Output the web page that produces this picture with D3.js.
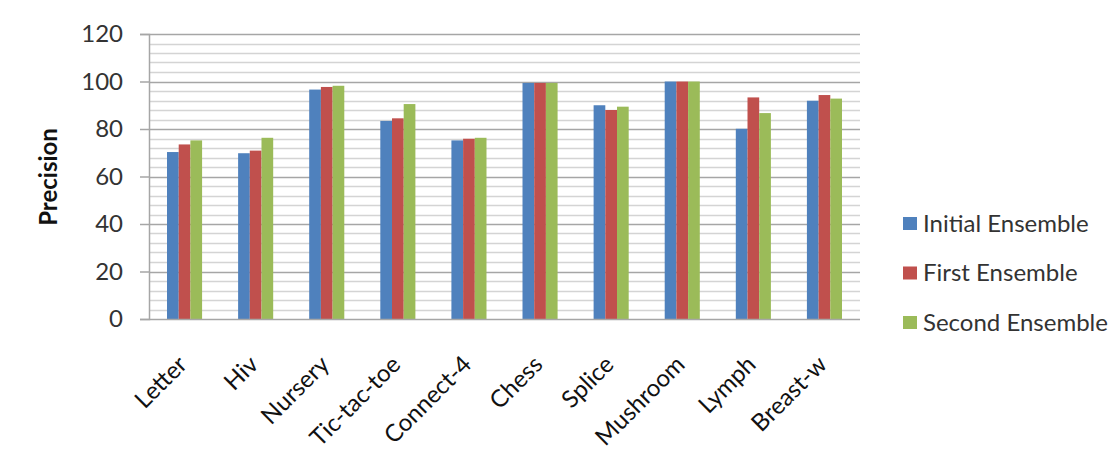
<!DOCTYPE html>
<html><head><meta charset="utf-8">
<script src="https://cdn.jsdelivr.net/npm/d3@7/dist/d3.min.js"></script>
<style>body{margin:0;background:#fff}svg{display:block}</style>
</head><body>
<svg id="chart" width="1112" height="451"></svg>
<script>
const categories = ["Letter","Hiv","Nursery","Tic-tac-toe","Connect-4","Chess","Splice","Mushroom","Lymph","Breast-w"];
const seriesNames = ["Initial Ensemble","First Ensemble","Second Ensemble"];
const initialEnsemble = [70.3, 69.8, 96.6, 83.4, 75.2, 99.4, 90.0, 100, 80.1, 91.9];
const firstEnsemble   = [73.5, 70.9, 97.7, 84.5, 75.9, 99.4, 88.0, 100, 93.3, 94.3];
const secondEnsemble  = [75.2, 76.3, 98.2, 90.5, 76.3, 99.4, 89.4, 100, 86.7, 92.8];
const yTicks = [0, 20, 40, 60, 80, 100, 120];
const colors = ["#4F81BD", "#C0504D", "#9BBB59"];
const allSeries = [initialEnsemble, firstEnsemble, secondEnsemble];

const svg = d3.select("#chart");
const font = "Lato, 'Open Sans', sans-serif";
const pLeft = 149, pRight = 860, pTop = 34, pBottom = 319;

const x = d3.scaleBand().domain(categories).range([pLeft, pRight]).paddingInner(0).paddingOuter(0);
const y = d3.scaleLinear().domain([0, 120]).range([pBottom, pTop]);
const inner = d3.scaleBand().domain(d3.range(3)).range([0, x.bandwidth()]).paddingOuter(1.54).paddingInner(0);

// grid
const minor = d3.range(0, 121, 4);
svg.append("g").selectAll("line").data(minor.filter(v => v % 20 !== 0)).join("line")
  .attr("x1", pLeft).attr("x2", pRight).attr("y1", d => Math.round(y(d)) + 0.5).attr("y2", d => Math.round(y(d)) + 0.5)
  .attr("stroke", "#d4d4d4").attr("stroke-width", 1.5);
svg.append("g").selectAll("line").data(yTicks.filter(v => v > 0)).join("line")
  .attr("x1", pLeft).attr("x2", pRight).attr("y1", d => Math.round(y(d)) + 0.5).attr("y2", d => Math.round(y(d)) + 0.5)
  .attr("stroke", "#a6a6a6").attr("stroke-width", 1.5);

// bars
const groups = svg.append("g").selectAll("g").data(categories).join("g")
  .attr("transform", d => `translate(${x(d)},0)`);
groups.selectAll("rect").data((d, i) => allSeries.map((s, k) => ({k, v: s[i]}))).join("rect")
  .attr("x", d => inner(d.k)).attr("width", inner.bandwidth())
  .attr("y", d => y(d.v)).attr("height", d => y(0) - y(d.v))
  .attr("fill", d => colors[d.k]);

// y axis
const yAxis = svg.append("g").attr("transform", `translate(${pLeft},0)`)
  .call(d3.axisLeft(y).tickValues(yTicks).tickSize(9).tickPadding(17));
yAxis.select(".domain").attr("stroke", "#a6a6a6").attr("stroke-width", 1.5);
yAxis.selectAll(".tick line").attr("stroke", "#a6a6a6").attr("stroke-width", 1.5);
yAxis.selectAll("text").attr("font-family", font).attr("font-size", 24).attr("fill", "#333");

// x axis
const xAxis = svg.append("g").attr("transform", `translate(0,${pBottom})`)
  .call(d3.axisBottom(x).tickSize(0).tickPadding(0));
xAxis.select(".domain").attr("stroke", "#a6a6a6").attr("stroke-width", 1.5).attr("d", `M${pLeft},0.5H${pRight}`);
xAxis.selectAll("text").attr("font-family", font).attr("font-size", 24).attr("fill", "#111")
  .attr("text-anchor", "end").attr("dy", 0)
  .attr("transform", "translate(4,47) rotate(-45)");

// y title
svg.append("text").attr("transform", `translate(57,177) rotate(-90)`)
  .attr("text-anchor", "middle").attr("font-family", font).attr("font-weight", "bold")
  .attr("font-size", 24).attr("fill", "#111").text("Precision");

// legend
const legend = svg.append("g").selectAll("g").data(seriesNames).join("g")
  .attr("transform", (d, i) => `translate(903,${223.5 + i * 49.5})`);
legend.append("rect").attr("x", 0).attr("y", -6.5).attr("width", 14).attr("height", 13)
  .attr("fill", (d, i) => colors[i]);
legend.append("text").attr("x", 20).attr("dy", "0.35em").attr("font-family", font)
  .attr("font-size", 24).attr("fill", "#333").text(d => d);
</script>
</body></html>
